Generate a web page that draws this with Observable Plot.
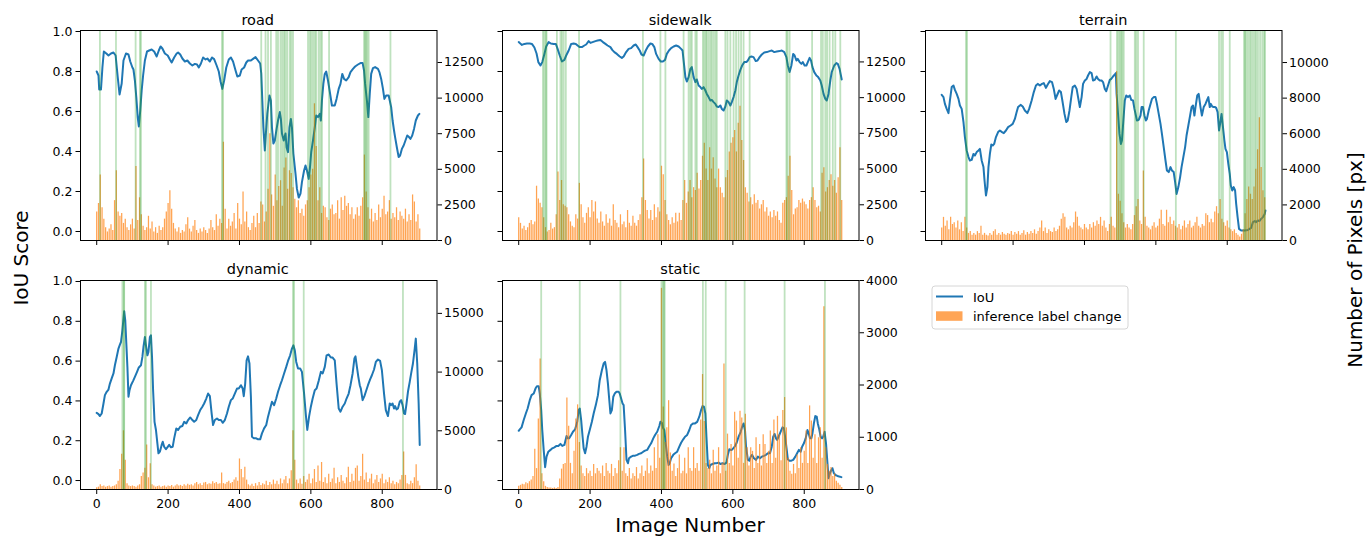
<!DOCTYPE html>
<html><head><meta charset="utf-8">
<script src="https://cdn.jsdelivr.net/npm/d3@7"></script>
<script src="https://cdn.jsdelivr.net/npm/@observablehq/plot@0.6"></script>
<style>
body{margin:0;background:#fff;}
#fig{position:relative;width:1369px;height:536px;overflow:hidden;background:#fff;font-family:"DejaVu Sans",sans-serif;color:#000;}
#fig svg{position:absolute;left:0;top:0;}
</style></head><body><div id="fig"></div>
<script>
// ---------- tick labels ----------
const imageTicks = [0, 200, 400, 600, 800];
const iouTicks = [0, 0.2, 0.4, 0.6, 0.8, 1.0];
const roadRightTicks = [0, 2500, 5000, 7500, 10000, 12500];
const sidewalkRightTicks = [0, 2500, 5000, 7500, 10000, 12500];
const terrainRightTicks = [0, 2000, 4000, 6000, 8000, 10000];
const dynamicRightTicks = [0, 5000, 10000, 15000];
const staticRightTicks = [0, 1000, 2000, 3000, 4000];
const classNames = ["road", "sidewalk", "terrain", "dynamic", "static"];
const legendLabels = ["IoU", "inference label change"];
const xAxisLabel = "Image Number", leftAxisLabel = "IoU Score", rightAxisLabel = "Number of Pixels [px]";
const pixelStep = 5; // one pixel-count sample every 5 images

// ---------- IoU series [image, IoU] ----------
const roadIou = [[0,.80],[5,.78],[7,.71],[12,.71],[16,.82],[20,.90],[27,.89],[33,.88],[40,.89],[47,.895],[53,.88],[59,.77],[64,.685],[70,.74],[75,.855],[82,.89],[89,.885],[94,.85],[100,.82],[103,.81],[107,.755],[111,.67],[115,.57],[118,.525],[122,.605],[126,.705],[130,.78],[135,.855],[141,.90],[147,.905],[154,.91],[161,.90],[168,.875],[174,.905],[179,.925],[184,.915],[191,.89],[199,.88],[205,.86],[210,.845],[217,.87],[224,.89],[228,.895],[234,.885],[240,.865],[247,.85],[254,.855],[261,.84],[268,.83],[275,.838],[281,.835],[286,.82],[292,.84],[298,.87],[305,.86],[310,.865],[317,.85],[323,.87],[329,.862],[336,.83],[342,.80],[347,.75],[352,.713],[357,.755],[363,.82],[370,.86],[376,.87],[382,.85],[389,.805],[394,.775],[401,.78],[406,.81],[413,.82],[419,.845],[424,.855],[432,.855],[438,.863],[445,.872],[452,.855],[458,.84],[461,.79],[464,.655],[467,.52],[471,.405],[474,.49],[478,.59],[484,.68],[488,.655],[491,.52],[495,.44],[499,.455],[504,.513],[508,.555],[513,.597],[516,.563],[519,.49],[524,.455],[529,.49],[532,.42],[536,.397],[540,.52],[544,.563],[547,.52],[551,.39],[557,.288],[561,.213],[566,.17],[571,.19],[575,.247],[581,.305],[585,.33],[589,.305],[594,.263],[598,.33],[601,.397],[606,.455],[611,.52],[615,.58],[620,.572],[625,.588],[628,.555],[631,.655],[635,.738],[639,.788],[643,.80],[648,.755],[654,.688],[659,.63],[667,.63],[672,.663],[678,.713],[683,.738],[688,.788],[693,.763],[699,.755],[706,.772],[711,.797],[718,.813],[724,.825],[732,.835],[739,.842],[745,.842],[749,.805],[752,.738],[757,.655],[761,.572],[765,.688],[769,.788],[774,.817],[780,.822],[788,.813],[792,.797],[797,.763],[802,.713],[806,.663],[811,.68],[818,.68],[821,.655],[825,.622],[829,.555],[833,.505],[836,.472],[841,.42],[846,.372],[850,.38],[855,.413],[860,.43],[865,.455],[870,.48],[875,.472],[879,.463],[884,.48],[889,.513],[894,.555],[900,.58],[904,.588]];
const sidewalkIou = [[0,.947],[3,.942],[9,.933],[16,.938],[23,.94],[31,.94],[37,.938],[44,.92],[50,.89],[55,.847],[61,.83],[66,.847],[72,.888],[77,.925],[84,.947],[90,.94],[98,.938],[104,.938],[109,.913],[115,.88],[121,.85],[128,.858],[133,.88],[140,.905],[147,.938],[154,.94],[160,.938],[165,.93],[171,.922],[177,.922],[184,.93],[189,.935],[196,.952],[201,.943],[207,.947],[215,.952],[221,.955],[229,.958],[236,.947],[243,.938],[249,.93],[257,.922],[262,.908],[268,.897],[275,.888],[283,.875],[289,.868],[294,.875],[301,.897],[308,.913],[315,.917],[322,.93],[328,.935],[333,.922],[339,.905],[344,.885],[350,.88],[356,.905],[362,.925],[369,.94],[374,.938],[380,.922],[385,.888],[392,.863],[398,.85],[404,.85],[410,.858],[415,.888],[421,.905],[427,.917],[434,.925],[441,.93],[448,.925],[455,.913],[459,.905],[463,.838],[467,.772],[471,.75],[476,.772],[481,.813],[485,.822],[490,.772],[495,.747],[499,.76],[504,.73],[509,.722],[513,.713],[518,.722],[523,.705],[527,.688],[532,.672],[537,.655],[541,.658],[546,.647],[551,.638],[555,.625],[560,.622],[565,.63],[569,.613],[574,.605],[579,.625],[583,.655],[588,.647],[593,.63],[597,.647],[602,.672],[607,.705],[611,.747],[616,.78],[621,.808],[626,.83],[632,.847],[638,.847],[642,.855],[647,.872],[652,.875],[658,.872],[664,.852],[669,.855],[675,.872],[681,.885],[688,.895],[695,.897],[703,.902],[709,.905],[716,.897],[723,.9],[731,.902],[737,.905],[744,.897],[750,.872],[754,.83],[759,.797],[764,.83],[769,.888],[773,.88],[778,.855],[782,.863],[787,.847],[792,.838],[796,.847],[801,.83],[806,.83],[810,.847],[815,.868],[819,.855],[823,.822],[828,.797],[834,.78],[839,.772],[845,.755],[849,.73],[854,.688],[859,.663],[863,.655],[868,.688],[873,.755],[877,.797],[884,.83],[890,.842],[894,.838],[899,.813],[905,.76]];
const terrainIou = [[0,.683],[5,.672],[9,.638],[14,.613],[19,.592],[23,.655],[28,.722],[33,.73],[37,.708],[42,.688],[47,.663],[51,.63],[56,.613],[61,.547],[65,.472],[70,.405],[75,.372],[79,.355],[84,.358],[89,.388],[93,.38],[98,.397],[103,.405],[107,.413],[112,.355],[117,.322],[120,.255],[124,.18],[128,.222],[131,.322],[135,.388],[139,.435],[143,.43],[147,.438],[152,.472],[158,.497],[163,.505],[169,.497],[174,.492],[180,.505],[186,.522],[193,.53],[199,.538],[205,.563],[210,.597],[214,.622],[221,.633],[227,.625],[233,.605],[240,.592],[245,.613],[252,.655],[258,.697],[264,.73],[269,.738],[275,.73],[281,.738],[286,.742],[292,.718],[297,.735],[303,.752],[309,.747],[314,.713],[319,.663],[323,.68],[329,.705],[334,.697],[338,.655],[344,.588],[349,.547],[353,.555],[358,.605],[363,.672],[367,.722],[373,.73],[378,.713],[382,.672],[387,.622],[392,.672],[396,.738],[401,.755],[406,.763],[410,.78],[415,.797],[420,.792],[424,.755],[429,.758],[434,.775],[438,.763],[443,.755],[448,.755],[452,.747],[457,.713],[461,.702],[466,.73],[471,.758],[475,.763],[480,.775],[485,.785],[488,.792],[490,.688],[494,.588],[498,.488],[502,.438],[505,.455],[509,.555],[513,.655],[517,.68],[522,.672],[527,.68],[531,.658],[536,.655],[540,.613],[544,.58],[547,.555],[552,.558],[557,.58],[560,.622],[564,.622],[568,.58],[572,.555],[575,.563],[580,.605],[585,.638],[589,.663],[594,.672],[599,.672],[603,.638],[608,.588],[613,.538],[617,.488],[622,.422],[627,.355],[631,.305],[636,.297],[641,.322],[645,.305],[650,.297],[654,.247],[658,.188],[663,.222],[668,.272],[672,.322],[677,.372],[682,.422],[686,.48],[691,.53],[696,.58],[700,.622],[704,.63],[708,.58],[711,.622],[716,.68],[720,.688],[725,.622],[729,.58],[734,.622],[739,.638],[743,.655],[747,.672],[751,.622],[754,.638],[758,.625],[762,.622],[766,.622],[769,.618],[773,.597],[777,.505],[780,.538],[784,.588],[788,.522],[792,.455],[795,.413],[799,.397],[803,.338],[807,.288],[810,.23],[814,.205],[818,.222],[822,.205],[825,.138],[829,.072],[833,.013],[839,.005],[849,.005],[858,.008],[867,.018],[872,.047],[877,.052],[881,.047],[886,.055],[890,.052],[895,.063],[900,.072],[905,.088],[907,.105]];
const dynamicIou = [[0,.34],[5,.334],[9,.324],[14,.337],[19,.387],[23,.429],[28,.446],[33,.457],[37,.487],[42,.513],[47,.538],[51,.579],[56,.621],[61,.663],[65,.683],[68,.696],[72,.755],[75,.813],[77,.851],[80,.805],[83,.688],[86,.571],[89,.421],[92,.454],[96,.479],[102,.501],[107,.521],[113,.546],[118,.568],[124,.579],[128,.621],[131,.671],[135,.721],[138,.679],[142,.629],[145,.646],[149,.721],[152,.73],[155,.621],[158,.454],[162,.295],[166,.254],[170,.187],[173,.137],[177,.145],[182,.179],[185,.195],[189,.17],[194,.157],[198,.167],[203,.179],[208,.167],[213,.17],[217,.212],[223,.262],[228,.254],[234,.27],[240,.274],[245,.295],[251,.287],[256,.304],[262,.317],[268,.304],[273,.295],[279,.304],[284,.329],[290,.354],[296,.371],[301,.387],[307,.412],[312,.437],[317,.424],[322,.337],[326,.279],[331,.304],[337,.312],[342,.304],[348,.304],[353,.29],[359,.304],[365,.337],[370,.371],[376,.404],[381,.412],[387,.437],[393,.462],[398,.462],[404,.479],[409,.462],[412,.424],[416,.487],[420,.604],[424,.624],[428,.588],[432,.421],[435,.22],[441,.212],[447,.212],[452,.207],[458,.207],[463,.237],[469,.262],[475,.279],[480,.321],[486,.362],[491,.396],[497,.379],[503,.412],[508,.446],[514,.479],[519,.504],[525,.538],[531,.571],[536,.601],[542,.629],[547,.663],[551,.679],[555,.654],[559,.596],[564,.563],[570,.563],[575,.546],[581,.437],[586,.329],[590,.254],[595,.321],[600,.371],[605,.412],[611,.454],[616,.462],[622,.501],[628,.546],[633,.538],[639,.571],[644,.629],[650,.633],[656,.618],[661,.618],[667,.604],[672,.487],[678,.362],[683,.346],[689,.371],[695,.387],[700,.412],[706,.437],[711,.479],[717,.538],[722,.613],[725,.624],[729,.571],[733,.521],[737,.479],[740,.462],[745,.404],[750,.424],[754,.446],[760,.479],[766,.508],[771,.529],[777,.558],[782,.596],[788,.608],[794,.601],[799,.554],[805,.437],[810,.354],[816,.324],[821,.387],[825,.379],[829,.387],[833,.362],[836,.374],[840,.357],[844,.362],[849,.396],[853,.404],[857,.379],[861,.337],[864,.334],[868,.387],[872,.446],[877,.496],[881,.538],[886,.588],[891,.663],[894,.713],[898,.588],[902,.387],[905,.179]];
const staticIou = [[0,.25],[3,.257],[8,.267],[14,.304],[20,.337],[25,.362],[31,.404],[36,.429],[42,.437],[47,.462],[51,.474],[56,.474],[59,.437],[63,.354],[66,.254],[70,.154],[74,.067],[78,.12],[83,.145],[89,.154],[94,.162],[100,.167],[106,.174],[111,.174],[117,.184],[122,.174],[128,.179],[134,.224],[137,.212],[141,.212],[147,.229],[152,.245],[158,.257],[164,.295],[168,.354],[171,.362],[175,.304],[179,.22],[182,.162],[186,.137],[190,.17],[194,.22],[199,.254],[205,.295],[210,.337],[216,.379],[222,.429],[227,.504],[233,.554],[238,.588],[242,.596],[246,.554],[250,.487],[253,.421],[257,.337],[261,.354],[265,.421],[269,.437],[274,.446],[280,.446],[283,.437],[287,.412],[291,.387],[294,.379],[298,.254],[302,.104],[306,.087],[309,.112],[315,.12],[321,.125],[326,.125],[332,.129],[337,.134],[343,.137],[349,.145],[354,.15],[360,.154],[365,.17],[371,.187],[377,.212],[382,.229],[388,.245],[394,.274],[397,.295],[401,.29],[405,.262],[408,.254],[412,.187],[416,.12],[420,.078],[423,.087],[427,.112],[433,.129],[438,.137],[444,.145],[450,.17],[455,.19],[461,.207],[466,.22],[472,.229],[478,.254],[483,.279],[489,.287],[494,.287],[500,.295],[506,.321],[511,.354],[515,.374],[519,.371],[523,.337],[526,.22],[530,.078],[534,.062],[537,.078],[543,.083],[549,.087],[554,.087],[560,.09],[565,.083],[571,.087],[577,.083],[582,.09],[586,.129],[590,.157],[594,.154],[597,.154],[601,.162],[605,.17],[610,.187],[616,.22],[622,.245],[626,.27],[630,.287],[634,.254],[637,.17],[642,.104],[646,.1],[650,.12],[654,.129],[659,.112],[665,.104],[670,.12],[676,.112],[681,.12],[687,.124],[693,.129],[698,.137],[704,.137],[709,.17],[713,.22],[717,.234],[721,.212],[724,.204],[728,.22],[732,.237],[736,.254],[739,.267],[743,.262],[747,.212],[751,.154],[754,.107],[758,.1],[764,.1],[769,.104],[775,.12],[780,.137],[785,.154],[790,.145],[794,.17],[799,.187],[804,.212],[809,.254],[812,.24],[816,.212],[820,.212],[823,.237],[827,.287],[831,.324],[835,.321],[838,.287],[842,.257],[846,.22],[850,.212],[853,.22],[857,.245],[861,.187],[865,.087],[868,.012],[872,.037],[876,.053],[879,.062],[883,.037],[887,.028],[893,.023],[898,.02],[904,.017]];

// ---------- inference label change [px], one value per 5 images ----------
const roadPixels = [2000,2600,4600,2300,1500,900,600,800,1100,700,2800,4900,2000,1700,1900,1200,1500,900,700,1100,1500,800,5200,1400,3000,1800,1000,700,900,1700,800,1300,600,900,500,1000,700,900,1500,2000,2600,3500,2200,1200,800,600,900,500,700,600,1100,1600,800,600,1000,1400,700,500,800,600,900,700,500,800,1400,900,700,1800,1000,1500,1200,6900,2200,800,1500,1000,1300,1900,800,2600,1500,1100,3400,1300,2000,900,700,1200,1700,900,1900,1200,2700,2500,1300,2000,3600,7500,3200,2400,4600,2800,3800,4200,2400,5100,5800,3600,4900,4700,3700,2900,2300,2800,1900,2200,1700,2500,2800,3700,4600,5000,9600,6600,2800,3700,1900,2400,2300,1600,1400,2200,2500,1800,1900,2800,1500,3000,2100,3100,2400,2600,1800,2300,1500,1800,2300,1700,2400,3000,6000,3400,2300,1500,2200,1300,1900,1400,2500,1600,2200,3100,1800,2000,2800,1500,1900,1600,2300,1400,2000,1700,1500,2200,1300,1800,1400,3200,2700,1300,1800,800];
const sidewalkPixels = [1600,1200,800,1000,700,900,1200,1400,1100,1300,3800,2900,2600,2300,1600,900,600,700,1200,800,900,1800,4800,2800,4200,2500,2400,2300,1800,1300,1000,900,1800,1500,4000,2500,1600,1200,1900,2300,1600,2800,2000,2700,1500,1200,2000,1300,1000,1800,1200,1500,1000,2500,1400,1200,900,1800,1100,1300,900,2100,1200,1000,1700,1200,1000,1400,1800,3000,5700,2800,2100,1500,2100,1400,2500,1600,2300,2000,5200,4600,2800,1800,1400,1100,1600,1200,1900,1300,1900,1400,2800,4200,2600,3400,4200,3000,3700,3500,4700,3600,4200,5900,6800,5000,4200,6500,5000,5800,4300,3700,5000,3700,3300,3000,4400,4900,6200,6800,7200,7700,6200,8200,9400,7000,5600,3700,3300,2700,3000,2500,3200,2600,2800,2200,2500,2800,2000,2300,1700,2000,1600,2100,1700,2000,1400,1200,2600,2800,3000,4500,5900,3500,1800,2200,2300,2800,2600,2900,2700,2500,2200,2800,3000,3700,2800,2300,2400,2000,4700,5100,3400,3700,4200,4600,3800,4200,3300,4400,6500,2800];
const terrainPixels = [700,1300,800,1100,600,1300,900,1000,700,1100,600,1000,500,1300,700,400,500,300,400,300,500,400,800,300,400,300,250,400,300,500,600,300,400,300,450,350,300,400,350,500,300,450,350,500,300,400,550,300,450,350,500,400,600,350,500,700,1100,500,700,400,600,500,450,700,500,600,800,1200,1500,1300,700,600,800,700,1000,1600,1300,800,700,600,900,700,600,900,700,1000,800,1100,900,1300,800,1100,700,500,900,1300,800,700,9500,2600,2200,1500,1000,700,900,700,600,900,1400,1900,2300,1100,900,3900,1300,800,700,600,800,1000,700,800,1200,1700,900,800,1700,1000,1300,900,1100,800,700,900,600,800,1100,700,900,1100,700,800,1000,1300,800,700,900,800,1500,1400,1000,1200,1000,1600,1900,1500,2300,1200,1000,800,1100,700,600,500,600,400,300,200,350,600,1500,2300,3000,2600,2300,3000,4000,5100,6900,4100,2800,2400];
const dynamicPixels = [150,200,400,250,300,200,250,300,200,250,300,400,700,1700,3000,5000,2500,500,300,250,300,250,200,300,400,1100,1400,1800,3800,1000,2200,400,300,200,250,300,200,250,300,200,300,250,350,200,300,400,300,350,250,400,300,450,350,400,300,500,600,400,500,350,550,600,400,500,450,650,500,600,450,500,1400,500,450,600,700,500,600,800,1000,700,2600,1700,1000,1900,800,400,300,450,250,500,300,600,350,500,400,700,350,600,400,800,450,700,400,900,500,800,1100,500,900,1600,5000,2500,800,500,900,450,1100,600,800,1300,500,900,1700,600,2000,700,2300,600,1000,500,1300,600,900,1800,500,1000,600,1200,700,500,1000,1900,600,1300,700,1800,2000,700,1100,3000,800,1400,600,900,1300,500,800,1200,600,900,1300,500,800,600,1000,500,700,400,600,500,800,1200,3200,1200,500,400,700,500,1000,2100,700,300];
const staticPixels = [60,80,100,90,130,110,150,180,250,770,400,1350,2500,300,150,60,40,30,30,20,30,20,40,200,390,480,500,1750,1210,500,300,730,1350,1620,900,450,300,250,400,300,350,250,480,300,400,350,300,450,250,500,350,300,480,250,400,300,550,800,350,800,300,250,400,200,300,250,420,200,300,450,250,350,590,300,450,350,800,400,1050,600,3850,1580,900,1180,1700,700,350,490,250,400,660,300,350,600,300,800,400,350,800,400,500,350,1330,2200,1300,500,400,560,300,750,350,450,800,300,500,2400,350,1060,500,860,450,1480,1310,600,1500,1370,500,1440,800,450,800,730,400,990,500,860,450,1050,860,500,730,1120,500,1330,600,1400,1050,550,1510,1760,1180,600,350,290,480,300,660,400,800,500,730,1120,500,1600,1310,600,1050,500,990,1180,600,3500,800,480,350,420,250,300,160,120,80,40];

// ---------- images where the inference label changed (green markers) ----------
const roadChanges = [9,54,109,121,124,351,354,461,473,480,488,503,508,515,520,525,529,534,541,545,550,592,597,601,606,611,615,622,627,631,651,749,752,755,758,762,823];
const sidewalkChanges = [68,72,76,78,107,117,121,126,132,169,348,397,411,462,476,481,485,495,499,516,520,524,527,532,537,541,546,551,555,579,585,593,602,609,616,623,630,647,750,753,759,822,847,852,859,864,871,880,887,901];
const terrainChanges = [68,71,473,491,495,499,503,506,510,541,545,550,566,656,777,783,788,807,847,850,853,858,863,867,872,877,881,886,892,898,903,906];
const dynamicChanges = [72,76,77,135,138,152,550,553,580,858];
const staticChanges = [63,171,285,400,404,407,409,516,524,580,633,745,858];

// ---------- layout ----------
const BLUE = "#1f77b4", ORANGE = "#ff7f0e", GREEN = "#2ca02c";
const ML = 50, MR = 60, MT = 30, MB = 30;
const XDOM = [-45.4, 953.4], YDOM = [-0.045, 1.005];
const fig = document.getElementById("fig");
const baseStyle = {background: "transparent", fontFamily: "DejaVu Sans", fontSize: "12.5px", color: "#000", overflow: "visible"};

const panels = [
  {name: classNames[0], left: 79.5, top: 30, w: 356.5, h: 210, iou: roadIou, pixels: roadPixels, changes: roadChanges, rmax: 14747, rticks: roadRightTicks, xLabels: false, yLabels: true},
  {name: classNames[1], left: 502, top: 30, w: 356.5, h: 210, iou: sidewalkIou, pixels: sidewalkPixels, changes: sidewalkChanges, rmax: 14700, rticks: sidewalkRightTicks, xLabels: false, yLabels: false},
  {name: classNames[2], left: 925, top: 30, w: 356.5, h: 210, iou: terrainIou, pixels: terrainPixels, changes: terrainChanges, rmax: 11800, rticks: terrainRightTicks, xLabels: false, yLabels: false},
  {name: classNames[3], left: 79.5, top: 279.5, w: 356.5, h: 209, iou: dynamicIou, pixels: dynamicPixels, changes: dynamicChanges, rmax: 17800, rticks: dynamicRightTicks, xLabels: true, yLabels: true},
  {name: classNames[4], left: 502, top: 279.5, w: 356.5, h: 209, iou: staticIou, pixels: staticPixels, changes: staticChanges, rmax: 4000, rticks: staticRightTicks, xLabels: true, yLabels: false}
];

for (const p of panels) {
  const holder = document.createElement("div");
  holder.style.cssText = `position:absolute;left:${p.left - ML}px;top:${p.top - MT}px;width:${p.w + ML + MR}px;height:${p.h + MT + MB}px;`;
  const dims = {width: p.w + ML + MR, height: p.h + MT + MB, marginLeft: ML, marginRight: MR, marginTop: MT, marginBottom: MB};
  const iouPlot = Plot.plot({
    ...dims, style: baseStyle,
    x: {domain: XDOM}, y: {domain: YDOM},
    marks: [
      Plot.line(p.iou, {x: d => d[0], y: d => d[1], stroke: BLUE, strokeWidth: 2}),
      Plot.axisX({ticks: imageTicks, tickSize: 5, tickPadding: 5, tickFormat: p.xLabels ? (d => String(d)) : (() => ""), label: null}),
      Plot.axisY({ticks: iouTicks, tickSize: 4.5, tickPadding: 3.5, tickFormat: p.yLabels ? d3.format(".1f") : (() => ""), label: null})
    ]
  });
  const pxData = p.pixels.map((v, k) => ({image: k * pixelStep, px: v}));
  const pxPlot = Plot.plot({
    ...dims, style: baseStyle,
    x: {domain: XDOM, axis: null}, y: {domain: [0, p.rmax]},
    marks: [
      Plot.ruleX(pxData, {x: "image", y1: 0, y2: "px", stroke: ORANGE, strokeOpacity: 0.72, strokeWidth: 1.25}),
      Plot.ruleX(p.changes, {stroke: GREEN, strokeOpacity: 0.3, strokeWidth: 1.8}),
      Plot.axisY({anchor: "right", ticks: p.rticks, tickSize: 4.5, tickPadding: 2.5, tickFormat: d => String(d), label: null}),
      Plot.frame({stroke: "#000", strokeWidth: 1})
    ]
  });
  holder.appendChild(iouPlot);
  holder.appendChild(pxPlot);
  fig.appendChild(holder);
}

// ---------- titles, axis labels, legend ----------
const ann = d3.create("svg").attr("width", 1369).attr("height", 536)
  .style("font-family", "DejaVu Sans").style("pointer-events", "none");
for (const p of panels) {
  ann.append("text").attr("x", p.left + p.w / 2).attr("y", p.top - 5.5)
    .attr("text-anchor", "middle").attr("font-size", 14.5).text(p.name);
}
ann.append("text").attr("transform", "translate(28,258) rotate(-90)")
  .attr("text-anchor", "middle").attr("font-size", 20).text(leftAxisLabel);
ann.append("text").attr("transform", "translate(1362,260) rotate(-90)")
  .attr("text-anchor", "middle").attr("font-size", 20).text(rightAxisLabel);
ann.append("text").attr("x", 690).attr("y", 531.5)
  .attr("text-anchor", "middle").attr("font-size", 20).text(xAxisLabel);

const lg = ann.append("g");
lg.append("rect").attr("x", 932).attr("y", 286).attr("width", 196).attr("height", 43)
  .attr("rx", 3).attr("fill", "#fff").attr("stroke", "#d6d6d6");
lg.append("line").attr("x1", 936).attr("x2", 963).attr("y1", 296.5).attr("y2", 296.5)
  .attr("stroke", BLUE).attr("stroke-width", 2);
lg.append("text").attr("x", 973).attr("y", 301.5).attr("font-size", 13).text(legendLabels[0]);
lg.append("rect").attr("x", 936).attr("y", 311.3).attr("width", 26.5).attr("height", 9.5)
  .attr("fill", ORANGE).attr("fill-opacity", 0.7);
lg.append("text").attr("x", 973).attr("y", 320.5).attr("font-size", 13).text(legendLabels[1]);
fig.appendChild(ann.node());
</script></body></html>
